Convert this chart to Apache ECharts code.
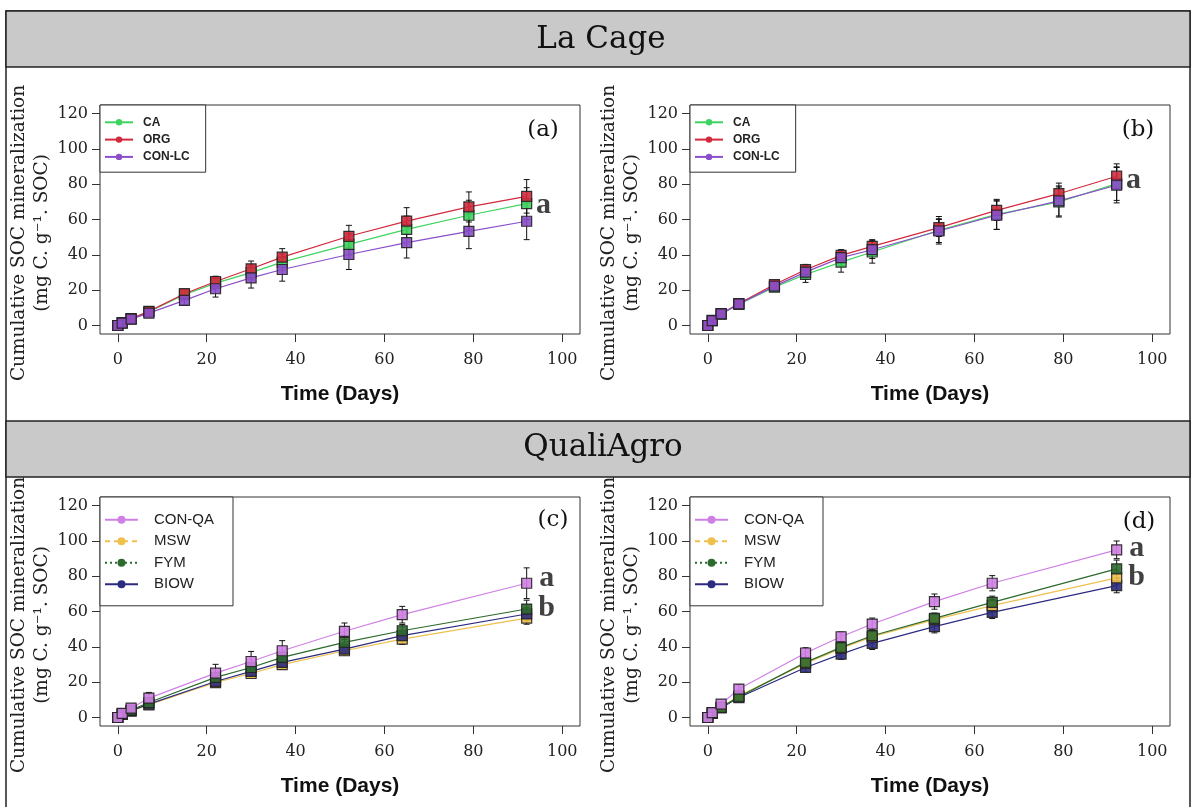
<!DOCTYPE html>
<html>
<head>
<meta charset="utf-8">
<script src="https://cdn.jsdelivr.net/npm/echarts@6/dist/echarts.min.js"></script>
<style>
html,body{margin:0;padding:0;background:#fff;}
#chart{width:1191px;height:807px;}
</style>
</head>
<body>
<div id="chart"></div>
<script>
// ---------- data ----------
const xTicks = [0, 20, 40, 60, 80, 100];
const yTicks = [0, 20, 40, 60, 80, 100, 120];

const daysLC = [0, 1, 3, 7, 15, 22, 30, 37, 52, 65, 79, 92];
const daysQA = [0, 1, 3, 7, 22, 30, 37, 51, 64, 92];

// Panel (a) La Cage
const a_CA    = [0, 1.5, 3.8, 7.8, 17.4, 24.0, 29.9, 35.9, 45.9, 54.4, 62.4, 69.0];
const a_ORG   = [0, 1.6, 3.9, 8.0, 18.0, 24.9, 32.1, 38.7, 50.5, 59.1, 67.1, 73.1];
const a_CONLC = [0, 1.4, 3.6, 7.0, 14.2, 20.8, 27.0, 31.7, 40.2, 46.9, 53.3, 59.0];
const a_CA_err    = [0, 0.3, 0.5, 1.0, 2.0, 3.0, 4.0, 4.5, 6.0, 7.5, 8.5, 9.0];
const a_ORG_err   = [0, 0.3, 0.5, 1.0, 2.0, 3.0, 4.4, 4.8, 6.2, 7.6, 8.5, 9.5];
const a_CONLC_err = [0, 0.3, 0.6, 1.2, 2.5, 4.7, 5.8, 6.6, 8.5, 8.7, 9.8, 10.4];

// Panel (b)
const b_CA    = [0, 2.7, 6.4, 12.0, 21.7, 28.9, 35.9, 41.6, 53.9, 62.9, 69.9, 80.3];
const b_ORG   = [0, 2.9, 6.7, 12.4, 23.2, 31.6, 39.7, 44.8, 55.4, 65.2, 74.6, 84.5];
const b_CONLC = [0, 2.8, 6.6, 12.2, 22.3, 30.2, 38.4, 42.9, 53.5, 62.4, 70.5, 79.4];
const b_CA_err    = [0, 0.4, 0.6, 1.2, 2.2, 4.5, 5.7, 6.3, 7.8, 8.5, 8.5, 9.5];
const b_ORG_err   = [0, 0.4, 0.6, 1.0, 2.0, 3.0, 3.0, 3.8, 5.0, 5.7, 6.0, 7.0];
const b_CONLC_err = [0, 0.4, 0.6, 1.2, 2.2, 4.0, 4.5, 5.0, 6.5, 8.0, 8.5, 10.0];

// Panel (c) QualiAgro
const c_CONQA = [0, 2.3, 5.3, 11.0, 25.1, 31.7, 37.8, 48.8, 58.2, 76.0];
const c_MSW   = [0, 1.8, 3.6, 7.2, 19.8, 24.9, 29.9, 37.8, 44.4, 56.3];
const c_FYM   = [0, 2.0, 4.2, 8.5, 22.7, 28.3, 34.0, 42.5, 49.1, 61.4];
const c_BIOW  = [0, 1.9, 3.9, 7.6, 20.4, 26.1, 31.2, 38.7, 46.3, 58.6];
const c_CONQA_err = [0, 0.4, 0.8, 3.2, 5.0, 5.7, 5.7, 4.7, 4.7, 8.7];
const c_MSW_err   = [0, 0.3, 0.5, 1.0, 1.5, 2.0, 2.0, 2.5, 3.0, 3.5];
const c_FYM_err   = [0, 0.3, 0.5, 1.0, 2.0, 2.5, 3.0, 3.0, 3.5, 5.0];
const c_BIOW_err  = [0, 0.3, 0.5, 1.0, 1.5, 2.0, 2.5, 2.5, 3.0, 3.5];

// Panel (d)
const d_CONQA = [0, 2.8, 7.6, 16.1, 36.5, 45.7, 52.9, 65.6, 76.0, 94.9];
const d_MSW   = [0, 2.6, 5.7, 12.3, 30.6, 39.1, 45.7, 55.4, 63.3, 79.0];
const d_FYM   = [0, 2.6, 5.8, 11.7, 31.2, 39.7, 46.3, 56.1, 65.2, 84.1];
const d_BIOW  = [0, 2.4, 5.4, 11.3, 28.3, 35.9, 42.0, 51.4, 59.5, 74.6];
const d_CONQA_err = [0, 0.4, 0.8, 2.5, 3.0, 2.7, 3.4, 4.3, 4.3, 5.0];
const d_MSW_err   = [0, 0.3, 0.6, 1.2, 2.5, 2.5, 3.0, 3.0, 3.5, 4.0];
const d_FYM_err   = [0, 0.3, 0.6, 1.2, 2.5, 2.5, 3.0, 3.0, 3.5, 5.0];
const d_BIOW_err  = [0, 0.3, 0.6, 1.2, 2.5, 3.0, 3.5, 3.5, 3.5, 4.0];

// significance letters: [x, y, letter]
const lettersA = [[95.8, 68.0, 'a']];
const lettersB = [[95.8, 82.2, 'a']];
const lettersC = [[96.5, 78.6, 'a'], [96.5, 61.6, 'b']];
const lettersD = [[96.5, 95.6, 'a'], [96.5, 79.2, 'b']];

const panelLabels = ['(a)', '(b)', '(c)', '(d)'];
const siteTitles = ['La Cage', 'QualiAgro'];
const xName = 'Time (Days)';
const yName = 'Cumulative SOC mineralization\n(mg C. g\u207B\u00B9. SOC)';

const colors = {
  'CA': '#3fd35f', 'ORG': '#d22a3c', 'CON-LC': '#8a4fc9',
  'CON-QA': '#cf80e4', 'MSW': '#f0c04c', 'FYM': '#2d6a2d', 'BIOW': '#2c2b80'
};

// ---------- layout ----------
const grids = [
  {left: 100, top: 105, width: 480, height: 229},
  {left: 690, top: 105, width: 480, height: 229},
  {left: 100, top: 497, width: 480, height: 229},
  {left: 690, top: 497, width: 480, height: 229}
];

const serif = "'DejaVu Serif', serif";
const sans = "'Liberation Sans', Arial, sans-serif";

function xAxis(i) {
  return {
    type: 'value', gridIndex: i, min: -4, max: 104,
    axisLine: {show: false, onZero: false},
    axisTick: {show: true, length: 8, customValues: xTicks, lineStyle: {color: '#333'}},
    axisLabel: {customValues: xTicks, margin: 18, fontFamily: serif, fontSize: 16, color: '#222'},
    splitLine: {show: false},
    name: xName, nameLocation: 'middle', nameGap: 50,
    nameTextStyle: {fontFamily: sans, fontWeight: 'bold', fontSize: 21, color: '#111'}
  };
}
function yAxis(i) {
  return {
    type: 'value', gridIndex: i, min: -4.8, max: 124.8,
    axisLine: {show: false, onZero: false},
    axisTick: {show: true, length: 8, customValues: yTicks, lineStyle: {color: '#333'}},
    axisLabel: {customValues: yTicks, margin: 12, fontFamily: serif, fontSize: 16, color: '#222'},
    splitLine: {show: false},
    name: yName, nameLocation: 'middle', nameRotate: 90, nameGap: 42,
    nameTextStyle: {fontFamily: serif, fontSize: 18.5, lineHeight: 23, color: '#222', padding: [0, 27, 0, 0]}
  };
}

const series = [];
function addGroup(panel, name, days, vals, errs) {
  const c = colors[name];
  series.push({
    type: 'custom', name: name + ' sd', xAxisIndex: panel, yAxisIndex: panel, silent: true, z: 2,
    data: days.map((d, i) => [d, vals[i] - errs[i], vals[i] + errs[i]]),
    encode: {x: 0, y: [1, 2]},
    renderItem: function (params, api) {
      const x = api.value(0);
      const lo = api.coord([x, api.value(1)]);
      const hi = api.coord([x, api.value(2)]);
      const w = 3;
      const st = {stroke: '#111', lineWidth: 1};
      return {type: 'group', children: [
        {type: 'line', shape: {x1: lo[0], y1: lo[1], x2: hi[0], y2: hi[1]}, style: st},
        {type: 'line', shape: {x1: lo[0] - w, y1: lo[1], x2: lo[0] + w, y2: lo[1]}, style: st},
        {type: 'line', shape: {x1: hi[0] - w, y1: hi[1], x2: hi[0] + w, y2: hi[1]}, style: st}
      ]};
    }
  });
  series.push({
    type: 'line', name: name, xAxisIndex: panel, yAxisIndex: panel, z: 3,
    symbol: 'circle', symbolSize: 10,
    data: days.map((d, i) => ({value: [d, vals[i]], symbol: 'rect'})),
    lineStyle: {color: c, width: 1.2},
    itemStyle: {color: c, borderColor: '#222', borderWidth: 1.2, opacity: 0.9}
  });
}
function addLetters(panel, letters) {
  series.push({
    type: 'scatter', xAxisIndex: panel, yAxisIndex: panel, silent: true, z: 5,
    symbolSize: 1, itemStyle: {color: 'rgba(0,0,0,0)'},
    data: letters.map(l => ({value: [l[0], l[1]], name: l[2]})),
    label: {show: true, position: 'inside', formatter: '{b}',
      fontFamily: "'Liberation Serif', 'Times New Roman', serif", fontWeight: 'bold', fontSize: 30, color: '#111'}
  });
}

addGroup(0, 'CA', daysLC, a_CA, a_CA_err);
addGroup(0, 'ORG', daysLC, a_ORG, a_ORG_err);
addGroup(0, 'CON-LC', daysLC, a_CONLC, a_CONLC_err);
addGroup(1, 'CA', daysLC, b_CA, b_CA_err);
addGroup(1, 'ORG', daysLC, b_ORG, b_ORG_err);
addGroup(1, 'CON-LC', daysLC, b_CONLC, b_CONLC_err);
addGroup(2, 'MSW', daysQA, c_MSW, c_MSW_err);
addGroup(2, 'BIOW', daysQA, c_BIOW, c_BIOW_err);
addGroup(2, 'FYM', daysQA, c_FYM, c_FYM_err);
addGroup(2, 'CON-QA', daysQA, c_CONQA, c_CONQA_err);
addGroup(3, 'BIOW', daysQA, d_BIOW, d_BIOW_err);
addGroup(3, 'MSW', daysQA, d_MSW, d_MSW_err);
addGroup(3, 'FYM', daysQA, d_FYM, d_FYM_err);
addGroup(3, 'CON-QA', daysQA, d_CONQA, d_CONQA_err);
addLetters(0, lettersA);
addLetters(1, lettersB);
addLetters(2, lettersC);
addLetters(3, lettersD);

function legendLC(i) {
  const g = grids[i];
  return {
    left: g.left, top: g.top, orient: 'vertical',
    itemWidth: 28, itemHeight: 8, itemGap: 5.3,
    padding: [11.3, 16, 9.3, 4],
    borderColor: '#333', borderWidth: 1, backgroundColor: '#fff',
    itemStyle: {borderWidth: 0, opacity: 1},
    textStyle: {fontFamily: sans, fontWeight: 'bold', fontSize: 12, lineHeight: 12, color: '#222', padding: [0, 0, 0, 5]},
    selectedMode: false,
    data: [{name: 'CA'}, {name: 'ORG'}, {name: 'CON-LC'}]
  };
}
function legendQA(i) {
  const g = grids[i];
  return {
    left: g.left, top: g.top, orient: 'vertical',
    itemWidth: 33, itemHeight: 10, itemGap: 6.5,
    padding: [15.3, 19, 14, 4],
    borderColor: '#333', borderWidth: 1, backgroundColor: '#fff',
    itemStyle: {borderWidth: 0, opacity: 1},
    textStyle: {fontFamily: sans, fontSize: 15, lineHeight: 14, color: '#222', padding: [0, 0, 0, 11]},
    selectedMode: false,
    data: [
      {name: 'CON-QA'},
      {name: 'MSW', lineStyle: {type: [5, 4]}},
      {name: 'FYM', lineStyle: {type: [2, 3]}},
      {name: 'BIOW'}
    ]
  };
}

const bandFill = '#c9c9c9';
const frameStroke = '#222';
const titleFont = "'DejaVu Serif', serif";
const labelPos = [[543, 130], [1138, 130], [553, 520], [1139, 522]];

const graphic = [
  {type: 'rect', z: -10, shape: {x: 6, y: 11, width: 1184, height: 820}, style: {fill: '#fff', stroke: frameStroke, lineWidth: 1.5}},
  {type: 'rect', z: -9, shape: {x: 6, y: 11, width: 1184, height: 56}, style: {fill: bandFill, stroke: frameStroke, lineWidth: 1.5}},
  {type: 'text', z: -8, x: 601, y: 40, style: {text: siteTitles[0], font: "31px " + titleFont, fill: '#111', align: 'center', verticalAlign: 'middle'}},
  {type: 'rect', z: -9, shape: {x: 6, y: 421, width: 1184, height: 56}, style: {fill: bandFill, stroke: frameStroke, lineWidth: 1.5}},
  {type: 'text', z: -8, x: 603, y: 448, style: {text: siteTitles[1], font: "31px " + titleFont, fill: '#111', align: 'center', verticalAlign: 'middle'}}
];
panelLabels.forEach((t, i) => {
  graphic.push({type: 'text', z: 10, x: labelPos[i][0], y: labelPos[i][1],
    style: {text: t, font: "23px " + serif, fill: '#111', align: 'center', verticalAlign: 'middle'}});
});

const option = {
  animation: false,
  backgroundColor: '#fff',
  graphic: graphic,
  grid: grids.map(g => Object.assign({show: true, borderColor: '#333', borderWidth: 1, backgroundColor: 'rgba(0,0,0,0)'}, g)),
  xAxis: [0, 1, 2, 3].map(xAxis),
  yAxis: [0, 1, 2, 3].map(yAxis),
  legend: [legendLC(0), legendLC(1), legendQA(2), legendQA(3)],
  series: series
};

const chart = echarts.init(document.getElementById('chart'), null, {renderer: 'canvas'});
chart.setOption(option);
</script>
</body>
</html>
